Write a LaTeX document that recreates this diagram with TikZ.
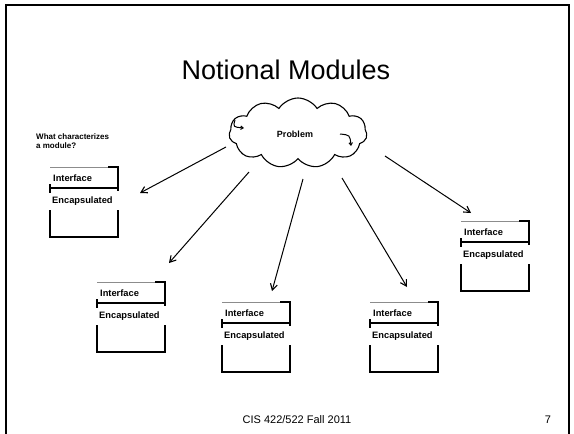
\documentclass[tikz,border=0pt]{standalone}
\usepackage{fontspec}
\setmainfont{Liberation Sans}
\usetikzlibrary{shapes.symbols,arrows.meta}
\tikzset{
  frameline/.style={line width=1.6pt,black},
  boxline/.style={line width=1.1pt,black},
  boxtop/.style={line width=0.9pt,black!45},
  lbl/.style={font=\fontsize{9.3}{10}\selectfont\bfseries,anchor=west,inner sep=0pt},
  feed/.style={line width=1pt,-{Straight Barb[length=6pt,width=7pt,line width=1.1pt]}},
  curl/.style={line width=1pt,-{Straight Barb[length=2.5pt,width=3.5pt]}},
}
\newcommand{\modbox}[4]{% name, x0, top, corner name
  \coordinate (#4) at (#2,#3);
  \draw[boxtop] (#2,#3) -- ({#2+58},#3);
  \draw[boxline] ({#2+58},#3) -- ({#2+68},#3) -- ({#2+68},{#3+24});
  \draw[boxline] (#2,{#3+21}) -- ({#2+68},{#3+21});
  \draw[boxline] (#2,{#3+17}) -- (#2,{#3+26});
  \draw[boxline] (#2,{#3+43}) -- (#2,{#3+70}) -- ({#2+68},{#3+70}) -- ({#2+68},{#3+43});
  \node[lbl] (#1i) at ({#2+3},{#3+11}) {Interface};
  \node[lbl] (#1e) at ({#2+2},{#3+34}) {Encapsulated};
}
\begin{document}
\begin{tikzpicture}[x=1pt,y=-1pt]
\useasboundingbox (0,0) rectangle (574,434);
% slide frame
\draw[frameline] (6,434) -- (6,5) -- (569,5) -- (569,434);
% title
\node[font=\fontsize{27}{30}\selectfont] (title) at (286,70) {Notional Modules};
\node[font=\fontsize{8}{9}\selectfont\bfseries,align=left,anchor=north west,inner sep=0pt] (q) at (36,134) {What characterizes\\a module?};
% cloud
\node[cloud,draw,line width=1.1pt,cloud puffs=11,cloud puff arc=115,aspect=2.1,minimum width=138pt,minimum height=70pt,inner sep=0pt] (cloud) at (298,133) {};
\node[font=\fontsize{9}{10}\selectfont\bfseries] (prob) at (295,134) {Problem};
\coordinate (cl1) at (235,120); \coordinate (cl2) at (244,128);
\coordinate (cr1) at (340,134); \coordinate (cr2) at (351,146);
\draw[curl] (cl1) .. controls (233,127) .. (cl2);
\draw[curl] (cr1) .. controls (350,135) .. (cr2);
% modules
\modbox{m1}{50}{167}{m1c}
\modbox{m2}{97}{282}{m2c}
\modbox{m3}{222}{302}{m3c}
\modbox{m4}{370}{302}{m4c}
\modbox{m5}{461}{221}{m5c}
% arrows
\coordinate (s1) at (226,147); \coordinate (e1) at (140,193);
\coordinate (s2) at (249,172); \coordinate (e2) at (169,263);
\coordinate (s3) at (303,179); \coordinate (e3) at (272,291);
\coordinate (s4) at (342,178); \coordinate (e4) at (407,287);
\coordinate (s5) at (385,156); \coordinate (e5) at (471,213);
\draw[feed] (s1) -- (e1);
\draw[feed] (s2) -- (e2);
\draw[feed] (s3) -- (e3);
\draw[feed] (s4) -- (e4);
\draw[feed] (s5) -- (e5);
% footer
\node[font=\fontsize{11}{12}\selectfont] (foot) at (297,420) {CIS 422/522 Fall 2011};
\node[font=\fontsize{11}{12}\selectfont] (pg) at (548,420) {7};
\end{tikzpicture}
\end{document}
